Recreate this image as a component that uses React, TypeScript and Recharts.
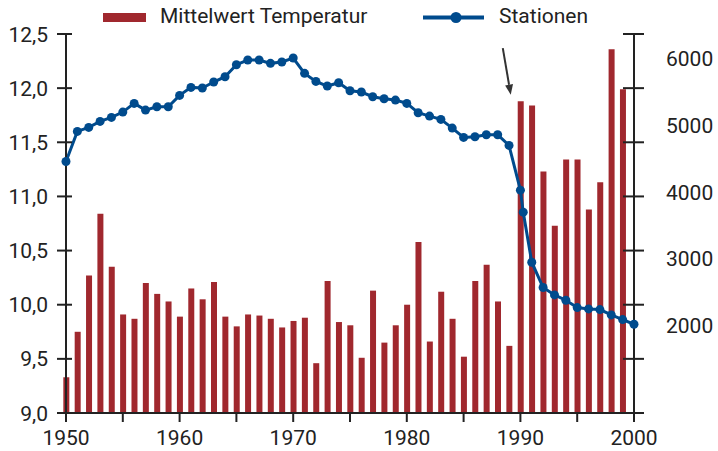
import React from 'react';
import { ComposedChart, Bar, Line, XAxis, YAxis, Legend, ReferenceLine } from 'recharts';

const years = [
  1950, 1951, 1952, 1953, 1954, 1955, 1956, 1957, 1958, 1959,
  1960, 1961, 1962, 1963, 1964, 1965, 1966, 1967, 1968, 1969,
  1970, 1971, 1972, 1973, 1974, 1975, 1976, 1977, 1978, 1979,
  1980, 1981, 1982, 1983, 1984, 1985, 1986, 1987, 1988, 1989,
  1990, 1991, 1992, 1993, 1994, 1995, 1996, 1997, 1998, 1999,
];
const temperature = [
  9.33, 9.75, 10.27, 10.84, 10.35, 9.91, 9.87, 10.2, 10.1, 10.03,
  9.89, 10.15, 10.05, 10.21, 9.89, 9.8, 9.91, 9.9, 9.87, 9.79,
  9.85, 9.88, 9.46, 10.22, 9.84, 9.81, 9.51, 10.13, 9.65, 9.81,
  10.0, 10.58, 9.66, 10.12, 9.87, 9.52, 10.22, 10.37, 10.03, 9.62,
  11.88, 11.84, 11.23, 10.73, 11.34, 11.34, 10.88, 11.13, 12.36, 11.99,
];

// 1990 has two counts (before / after the change)
const stationYears = [
  1950, 1951, 1952, 1953, 1954, 1955, 1956, 1957, 1958, 1959,
  1960, 1961, 1962, 1963, 1964, 1965, 1966, 1967, 1968, 1969,
  1970, 1971, 1972, 1973, 1974, 1975, 1976, 1977, 1978, 1979,
  1980, 1981, 1982, 1983, 1984, 1985, 1986, 1987, 1988, 1989,
  1990, 1990.25, 1991, 1992, 1993, 1994, 1995, 1996, 1997, 1998, 1999, 2000,
];
const stations = [
  4460, 4910, 4970, 5060, 5120, 5200, 5330, 5230, 5280, 5280,
  5450, 5570, 5560, 5650, 5730, 5910, 5980, 5980, 5930, 5950,
  6010, 5780, 5660, 5590, 5640, 5520, 5500, 5430, 5400, 5380,
  5330, 5190, 5140, 5090, 4960, 4820, 4830, 4860, 4860, 4700,
  4030, 3700, 2950, 2570, 2460, 2380, 2270, 2250, 2240, 2160, 2090, 2020,
];

const xTicks = [1950, 1955, 1960, 1965, 1970, 1975, 1980, 1985, 1990, 1995, 2000];
const tempTicks = [9, 9.5, 10, 10.5, 11, 11.5, 12, 12.5];
const stationTicks = [2000, 3000, 4000, 5000, 6000];

const W = 718;
const H = 451;
const LEFT_W = 66;
const RIGHT_W = 84;
const PLOT_RIGHT = W - RIGHT_W;

const RED = '#a0282e';
const BLUE = '#004b8d';
const INK = '#222';

const barData = years.map((year, i) => ({ year, temp: temperature[i] }));
const lineData = stationYears.map((year, i) => ({ year, stations: stations[i] }));

// left labels + ticks crossing both the left and the right axis line
const TempTick = (props: any) => {
  const { x, y, payload } = props;
  return (
    <g>
      <line x1={x - 9} x2={x + 6} y1={y} y2={y} stroke={INK} strokeWidth={2} />
      <line x1={PLOT_RIGHT - 11} x2={PLOT_RIGHT + 10} y1={y} y2={y} stroke={INK} strokeWidth={2} />
      <text x={x - 18} y={y} dy="0.36em" textAnchor="end" fill={INK} fontSize={21}>
        {payload.value.toFixed(1).replace('.', ',')}
      </text>
    </g>
  );
};

const LegendContent = () => (
  <svg width={W} height={34}>
    <rect x={103} y={13} width={43} height={9} fill={RED} />
    <text x={160} y={23} fill={INK} fontSize={21}>Mittelwert Temperatur</text>
    <line x1={423} x2={484} y1={17.5} y2={17.5} stroke={BLUE} strokeWidth={4} />
    <circle cx={456} cy={17.5} r={5.5} fill={BLUE} />
    <text x={499} y={23} fill={INK} fontSize={21}>Stationen</text>
  </svg>
);

const Arrow = (props: any) => {
  const { x1, y1, x2, y2 } = props;
  const a = Math.atan2(y2 - y1, x2 - x1);
  const len = 10;
  const hw = 4;
  const bx = x2 - len * Math.cos(a);
  const by = y2 - len * Math.sin(a);
  const nx = -Math.sin(a) * hw;
  const ny = Math.cos(a) * hw;
  return (
    <g>
      <line x1={x1} y1={y1} x2={bx} y2={by} stroke="#333" strokeWidth={2} />
      <polygon points={`${x2},${y2} ${bx + nx},${by + ny} ${bx - nx},${by - ny}`} fill="#333" />
    </g>
  );
};

export default function App() {
  return (
    <div style={{ position: 'absolute', left: 0, top: 0, fontFamily: 'Roboto, sans-serif' }}>
      <ComposedChart width={W} height={H} data={barData} margin={{ top: 34, right: 0, bottom: 0, left: 0 }}>
        <XAxis
          type="number"
          dataKey="year"
          domain={[1950, 2000]}
          ticks={xTicks}
          interval={0}
          tickFormatter={(v) => (v % 10 === 0 ? String(v) : '')}
          height={38}
          tickSize={9}
          tickMargin={8}
          tickLine={{ stroke: INK, strokeWidth: 2 }}
          axisLine={{ stroke: INK, strokeWidth: 2 }}
          tick={{ fill: INK, fontSize: 21 }}
        />
        {/* separate hidden x axis for the line so its extra 1990 point doesn't shrink the bars */}
        <XAxis xAxisId="line" type="number" dataKey="year" domain={[1950, 2000]} hide />
        <YAxis
          yAxisId="temp"
          width={LEFT_W}
          domain={[9, 12.5]}
          ticks={tempTicks}
          interval={0}
          tickSize={0}
          tickMargin={0}
          tickLine={false}
          axisLine={{ stroke: INK, strokeWidth: 2 }}
          tick={<TempTick />}
        />
        <YAxis
          yAxisId="stations"
          orientation="right"
          width={RIGHT_W}
          domain={[690, 6370]}
          ticks={stationTicks}
          interval={0}
          tickSize={0}
          tickMargin={32}
          tickLine={false}
          axisLine={{ stroke: INK, strokeWidth: 2 }}
          tick={{ fill: INK, fontSize: 21 }}
        />
        <Legend verticalAlign="middle" wrapperStyle={{ top: 0, left: 0 }} content={<LegendContent />} />
        <Bar yAxisId="temp" dataKey="temp" fill={RED} barSize={6} isAnimationActive={false} />
        <Line
          xAxisId="line"
          yAxisId="stations"
          data={lineData}
          dataKey="stations"
          stroke={BLUE}
          strokeWidth={3}
          dot={{ r: 4.5, fill: BLUE, stroke: BLUE, strokeWidth: 0 }}
          activeDot={false}
          isAnimationActive={false}
        />
        <ReferenceLine
          yAxisId="temp"
          segment={[{ x: 1988.45, y: 12.37 }, { x: 1989.15, y: 11.94 }]}
          shape={<Arrow />}
        />
      </ComposedChart>
    </div>
  );
}
